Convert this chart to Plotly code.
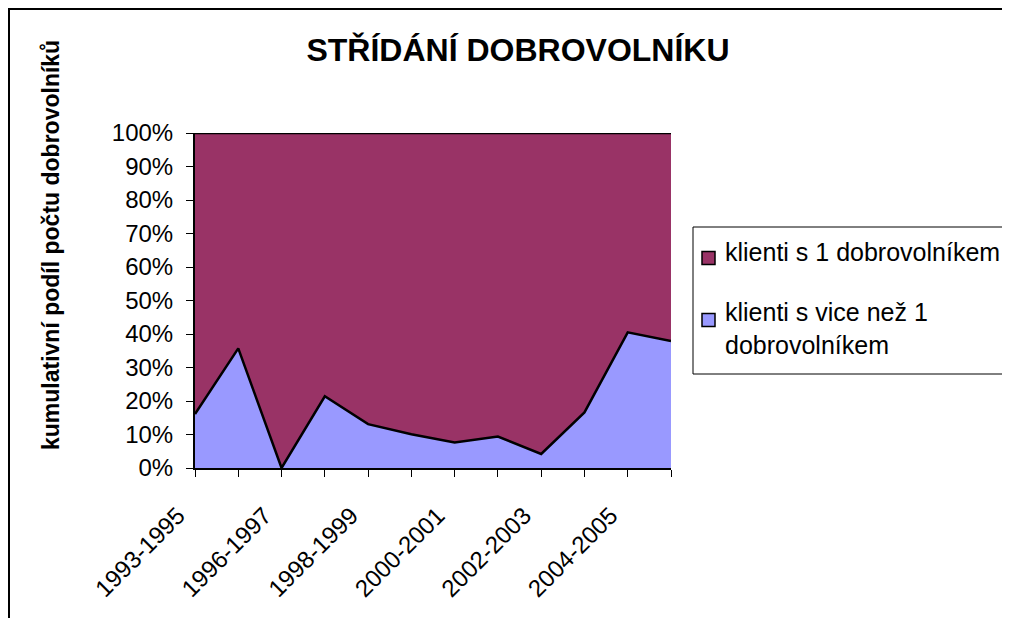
# -*- coding: utf-8 -*-

import plotly.graph_objects as go

obdobi = [
    "1993-1995", "1995-1996", "1996-1997", "1997-1998",
    "1998-1999", "1999-2000", "2000-2001", "2001-2002",
    "2002-2003", "2003-2004", "2004-2005", "2005-2006"
]

popisky = [
    "1993-1995", "", "1996-1997", "",
    "1998-1999", "", "2000-2001", "",
    "2002-2003", "", "2004-2005", ""
]

vice_dobrovolniku = [16.1, 35.7, 0.0, 21.4, 13.1, 10.1, 7.6, 9.4, 4.2, 16.6, 40.5, 37.9]
jeden_dobrovolnik = [83.9, 64.3, 100.0, 78.6, 86.9, 89.9, 92.4, 90.6, 95.8, 83.4, 59.5, 62.1]

nazev_1 = "klienti s 1 dobrovolníkem"
nazev_2 = "klienti s vice než 1<br>dobrovolníkem"

barva_1 = "#993366"
barva_2 = "#9999FF"

font = "Liberation Sans, Arial, sans-serif"

# stranka ma okraj 8 px, vse je posunute
OFF = 8
# plocha grafu v pixelech (souradnice obrazku)
L, R, T, B = 195, 671, 133, 468
W, H = 1010, 618


def px_x(x):
    return (x - L) / (R - L)


def px_y(y):
    return (B - y) / (B - T)


fig = go.Figure()

fig.add_trace(go.Scatter(
    x=obdobi,
    y=vice_dobrovolniku,
    name=nazev_2,
    mode="lines",
    stackgroup="one",
    fillcolor=barva_2,
    line=dict(color="black", width=2.5),
    showlegend=False
))

fig.add_trace(go.Scatter(
    x=obdobi,
    y=jeden_dobrovolnik,
    name=nazev_1,
    mode="lines",
    stackgroup="one",
    fillcolor=barva_1,
    line=dict(color="black", width=2.5),
    showlegend=False
))

fig.update_layout(
    width=W,
    height=H,
    margin=dict(l=L - OFF, r=W - R + OFF, t=T - OFF, b=H - B + OFF),
    paper_bgcolor="white",
    plot_bgcolor="white",
    font=dict(family=font, color="black", size=24),
    title=dict(
        text="<b>STŘÍDÁNÍ DOBROVOLNÍKU</b>",
        x=(518 - OFF) / W,
        xanchor="center",
        y=1 - (50 - OFF) / H,
        yanchor="middle",
        font=dict(size=32, family=font)
    )
)

fig.update_xaxes(
    type="category",
    tickmode="array",
    tickvals=obdobi,
    ticktext=popisky,
    tickangle=-45,
    range=[0, len(obdobi) - 1],
    showgrid=False,
    showline=True,
    linecolor="black",
    linewidth=2,
    ticks="outside",
    ticklen=7,
    tickcolor="black",
    tickfont=dict(size=24),
    ticklabelstandoff=15,
    ticklabelshift=-17,
    zeroline=False
)

fig.update_yaxes(
    range=[0, 100],
    tickmode="linear",
    tick0=0,
    dtick=10,
    ticksuffix="%",
    showgrid=False,
    showline=True,
    linecolor="black",
    linewidth=2,
    ticks="outside",
    ticklen=7,
    tickcolor="black",
    tickfont=dict(size=24),
    ticklabelstandoff=8,
    zeroline=False
)

# popisek osy y
fig.add_annotation(
    text="<b>kumulativní podíl počtu dobrovolníků</b>",
    xref="paper", yref="paper",
    x=px_x(36), y=px_y(245),
    textangle=-90,
    showarrow=False,
    font=dict(size=23, family=font)
)

# ramecek grafu (vidi se jen levy a horni okraj)
fig.add_shape(
    type="rect",
    xref="paper", yref="paper",
    x0=px_x(9), x1=px_x(1200),
    y0=px_y(800), y1=px_y(9),
    line=dict(color="black", width=2),
    fillcolor="rgba(0,0,0,0)"
)

# legenda
fig.add_shape(
    type="rect",
    xref="paper", yref="paper",
    x0=px_x(693), x1=px_x(1200),
    y0=px_y(374), y1=px_y(227),
    line=dict(color="black", width=1),
    fillcolor="white"
)

polozky = [(nazev_1, barva_1, 258, 252), (nazev_2, barva_2, 320, 328)]
for nazev, barva, ys, yt in polozky:
    fig.add_shape(
        type="rect",
        xref="paper", yref="paper",
        x0=px_x(702), x1=px_x(715),
        y0=px_y(ys + 6.5), y1=px_y(ys - 6.5),
        line=dict(color="black", width=1.5),
        fillcolor=barva
    )
    fig.add_annotation(
        text=nazev,
        xref="paper", yref="paper",
        x=px_x(723), y=px_y(yt),
        xanchor="left", yanchor="middle",
        align="left",
        showarrow=False,
        font=dict(size=25, family=font)
    )

fig.write_html("out.html")
